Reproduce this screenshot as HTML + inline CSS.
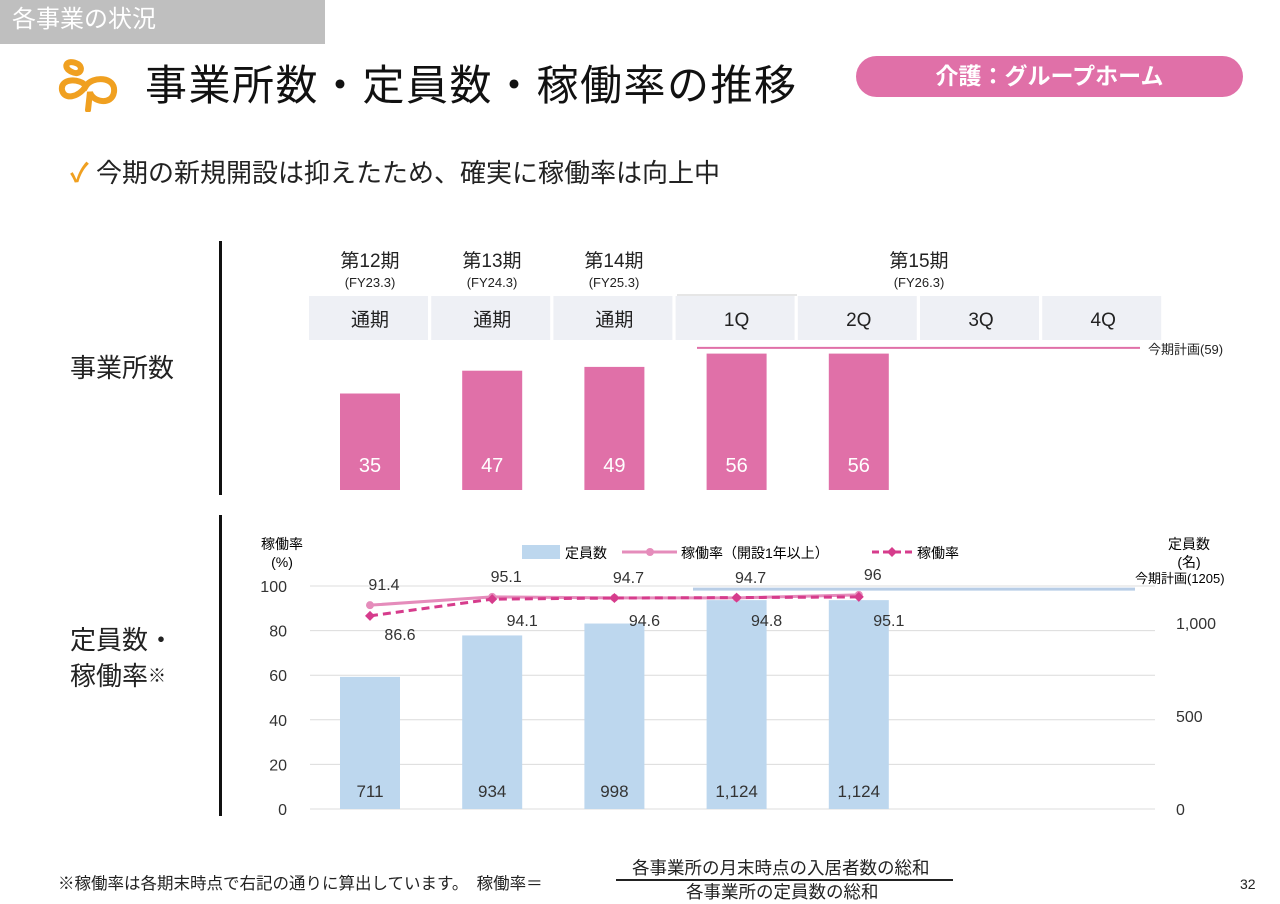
<!DOCTYPE html>
<html><head><meta charset="utf-8">
<style>
body{margin:0;width:1280px;height:904px;background:#fff;position:relative;overflow:hidden;font-family:"Liberation Sans","Noto Sans CJK JP",sans-serif;color:#222}
.a{position:absolute;white-space:nowrap}
</style></head><body>
<div class="a" style="left:0;top:0;width:325px;height:44px;background:#bfbfbf;color:#fff;font-size:24px;line-height:40px;padding-left:12px;box-sizing:border-box">各事業の状況</div>
<svg class="a" style="left:56px;top:56px" width="64" height="56" viewBox="0 0 64 56"><path d="M22 8 C10 2 6 12 16 16 C24 20 28 12 22 8 Z M6 34 C4 22 24 22 30 30 C36 20 60 20 58 36 C56 50 36 46 34 36 L32 54" fill="none" stroke="#f0a020" stroke-width="6" stroke-linecap="round"/><path d="M6 34 C8 44 22 42 30 30" fill="none" stroke="#f0a020" stroke-width="6"/></svg>
<div class="a" style="left:145px;top:52px;font-size:42px;letter-spacing:1.5px;color:#111">事業所数・定員数・稼働率の推移</div>
<div class="a" style="left:856px;top:56px;width:387px;height:41px;border-radius:21px;background:#e070a8;color:#fff;font-size:23px;font-weight:bold;text-align:center;line-height:41px">介護：グループホーム</div>
<div class="a" style="left:70px;top:153px;font-size:26px;color:#222"><span style="color:#f0a020;font-weight:bold">✓</span>&nbsp;今期の新規開設は抑えたため、確実に稼働率は向上中</div>

<div class="a" style="left:219px;top:241px;width:3px;height:254px;background:#111"></div>
<div class="a" style="left:219px;top:515px;width:3px;height:301px;background:#111"></div>
<div class="a" style="left:70px;top:348px;font-size:26px">事業所数</div>
<div class="a" style="left:70px;top:622px;font-size:26px;line-height:36px">定員数・<br>稼働率<span style="font-size:18px;vertical-align:top">※</span></div>

<svg class="a" style="left:0;top:0" width="1280" height="904" id="chart"></svg>

<div class="a" style="left:58px;top:870px;font-size:16.5px">※稼働率は各期末時点で右記の通りに算出しています。　稼働率＝</div>
<div class="a" style="left:632px;top:855px;font-size:17.5px">各事業所の月末時点の入居者数の総和</div>
<div class="a" style="left:616px;top:879px;width:337px;height:1.5px;background:#222"></div>
<div class="a" style="left:686px;top:879px;font-size:17.5px">各事業所の定員数の総和</div>
<div class="a" style="left:1240px;top:876px;font-size:14px">32</div>

<script>
const periods=["第12期","第13期","第14期","第15期"];
const fyLabels=["(FY23.3)","(FY24.3)","(FY25.3)","(FY26.3)"];
const colLabels=["通期","通期","通期","1Q","2Q","3Q","4Q"];
const facilities=[35,47,49,56,56];
const facilityPlan=59;
const capacity=[711,934,998,1124,1124];
const capacityPlan=1205;
const rateOver1y=[91.4,95.1,94.7,94.7,96];
const rateAll=[86.6,94.1,94.6,94.8,95.1];
const leftTicks=[0,20,40,60,80,100];
const rightTicks=[0,500,1000];
const capLabels=["711","934","998","1,124","1,124"];

const svg=document.getElementById('chart');
const NS="http://www.w3.org/2000/svg";
function mk(tag,at,txt){const e=document.createElementNS(NS,tag);for(const k in at)e.setAttribute(k,at[k]);if(txt!==undefined)e.textContent=txt;svg.appendChild(e);return e;}
const cx=i=>370+i*122.2;
const yF=v=>490-(30+v*1.9);
const yL=v=>809-v*2.23;
const yR=v=>809-v*(223/1200);

const perX=[370,492,614,919];
periods.forEach((p,i)=>{
 const t=mk('text',{x:perX[i],y:267,'text-anchor':'middle','font-size':19,fill:'#222'},p);
 
 const f=mk('text',{x:perX[i],y:287,'text-anchor':'middle','font-size':13,fill:'#222'},fyLabels[i]);
 
});
mk('line',{x1:677,x2:797,y1:295,y2:295,stroke:'#ccc','stroke-width':1});
colLabels.forEach((c,i)=>{
 const r=mk('rect',{x:cx(i)-61,y:296,width:119,height:44,fill:'#eef0f5'});
 
 const t=mk('text',{x:cx(i),y:326,'text-anchor':'middle','font-size':19,fill:'#222'},c);
 
});
const pl=mk('line',{x1:697,x2:1140,y1:yF(facilityPlan),y2:yF(facilityPlan),stroke:'#e070a8','stroke-width':2});

const plt=mk('text',{x:1148,y:yF(facilityPlan)+6,'font-size':13,fill:'#222'},'今期計画('+facilityPlan+')');

facilities.forEach((v,i)=>{
 const r=mk('rect',{x:cx(i)-30,y:yF(v),width:60,height:490-yF(v),fill:'#e070a8'});
 
 const t=mk('text',{x:cx(i),y:472,'text-anchor':'middle','font-size':20,fill:'#fff'},v);
 
});
leftTicks.forEach(v=>{
 const g=mk('line',{x1:310,x2:1155,y1:yL(v),y2:yL(v),stroke:'#dcdcdc','stroke-width':1});
 
 const t=mk('text',{x:287,y:yL(v)+6,'text-anchor':'end','font-size':16,fill:'#333'},v);
 
});
rightTicks.forEach(v=>{
 const t=mk('text',{x:1176,y:yR(v)+6,'font-size':16,fill:'#333'},v.toLocaleString('en-US'));
 
});
const lt=mk('text',{x:282,y:549,'text-anchor':'middle','font-size':14},'稼働率');

mk('text',{x:282,y:567,'text-anchor':'middle','font-size':14},'(%)');
const rt=mk('text',{x:1189,y:549,'text-anchor':'middle','font-size':14},'定員数');

mk('text',{x:1189,y:567,'text-anchor':'middle','font-size':14},'(名)');
const cpl=mk('line',{x1:693,x2:1135,y1:yR(capacityPlan)+4,y2:yR(capacityPlan)+4,stroke:'#b8cde6','stroke-width':3});

const cpt=mk('text',{x:1135,y:583,'font-size':13},'今期計画('+capacityPlan+')');

capacity.forEach((v,i)=>{
 const r=mk('rect',{x:cx(i)-30,y:yR(v),width:60,height:809-yR(v),fill:'#bdd7ee'});
 
 const t=mk('text',{x:cx(i),y:797,'text-anchor':'middle','font-size':17,fill:'#333'},capLabels[i]);
 
});
const p1=rateOver1y.map((v,i)=>cx(i)+','+yL(v)).join(' ');
const l1=mk('polyline',{points:p1,fill:'none',stroke:'#e58cbb','stroke-width':3});

const p2=rateAll.map((v,i)=>cx(i)+','+yL(v)).join(' ');
const l2=mk('polyline',{points:p2,fill:'none',stroke:'#d63c8c','stroke-width':3,'stroke-dasharray':'8,5'});

rateOver1y.forEach((v,i)=>{
 const c=mk('circle',{cx:cx(i),cy:yL(v),r:4,fill:'#e58cbb'});
 
 const t=mk('text',{x:cx(i)+14,y:yL(v)-15,'text-anchor':'middle','font-size':16,fill:'#333'},v);
 
});
rateAll.forEach((v,i)=>{
 const x=cx(i),y=yL(v);
 const d=mk('polygon',{points:`${x},${y-5} ${x+5},${y} ${x},${y+5} ${x-5},${y}`,fill:'#d63c8c'});
 
 const t=mk('text',{x:x+30,y:i==0?640:626,'text-anchor':'middle','font-size':16,fill:'#333'},v);
 
});
const lg1=mk('rect',{x:522,y:545,width:38,height:14,fill:'#bdd7ee'});

mk('text',{x:565,y:558,'font-size':14},'定員数');
const lg2=mk('line',{x1:622,x2:677,y1:552,y2:552,stroke:'#e58cbb','stroke-width':3});

mk('circle',{cx:650,cy:552,r:4,fill:'#e58cbb'});
mk('text',{x:681,y:558,'font-size':14},'稼働率（開設1年以上）');
const lg3=mk('line',{x1:872,x2:912,y1:552,y2:552,stroke:'#d63c8c','stroke-width':3,'stroke-dasharray':'7,4'});

mk('polygon',{points:'892,547 897,552 892,557 887,552',fill:'#d63c8c'});
mk('text',{x:917,y:558,'font-size':14},'稼働率');
</script>
</body></html>
